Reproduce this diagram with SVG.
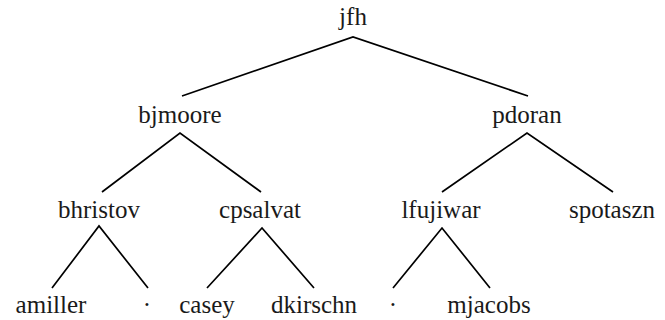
<svg xmlns="http://www.w3.org/2000/svg" width="665" height="320" viewBox="0 0 665 320">
<style>
text{font-size:25px;fill:#1a1a1a;text-anchor:middle}
.e{stroke:#000;stroke-width:1.7;fill:none;stroke-linejoin:miter}
</style>
<rect width="665" height="320" fill="#fff"/>
<g id="connectors">
<polyline class="e" points="182,96 353,37 528,96"/>
<polyline class="e" points="102,192 180,133 261,192"/>
<polyline class="e" points="442,192 527,133 613,192"/>
<polyline class="e" points="52,288 99,226 148,288"/>
<polyline class="e" points="207,288 262,228 314,288"/>
<polyline class="e" points="393,288 442,228 490,288"/>
</g>
<g id="jfh"><text x="353" y="25" font-family="Liberation Serif">jfh</text></g>
<g id="bjmoore"><text x="180" y="123" font-family="Liberation Serif">bjmoore</text></g>
<g id="pdoran"><text x="527" y="123" font-family="Liberation Serif">pdoran</text></g>
<g id="bhristov"><text x="99" y="218" font-family="Liberation Serif">bhristov</text></g>
<g id="cpsalvat"><text x="260" y="218" font-family="Liberation Serif">cpsalvat</text></g>
<g id="lfujiwar"><text x="441" y="218" font-family="Liberation Serif">lfujiwar</text></g>
<g id="spotaszn"><text x="612" y="218" font-family="Liberation Serif">spotaszn</text></g>
<g id="amiller"><text x="51" y="313" font-family="Liberation Serif">amiller</text></g>
<g id="empty1"><text x="147" y="313" font-family="Liberation Serif">·</text></g>
<g id="casey"><text x="207" y="313" font-family="Liberation Serif">casey</text></g>
<g id="dkirschn"><text x="314" y="313" font-family="Liberation Serif">dkirschn</text></g>
<g id="empty2"><text x="393" y="313" font-family="Liberation Serif">·</text></g>
<g id="mjacobs"><text x="489" y="313" font-family="Liberation Serif">mjacobs</text></g>
</svg>
